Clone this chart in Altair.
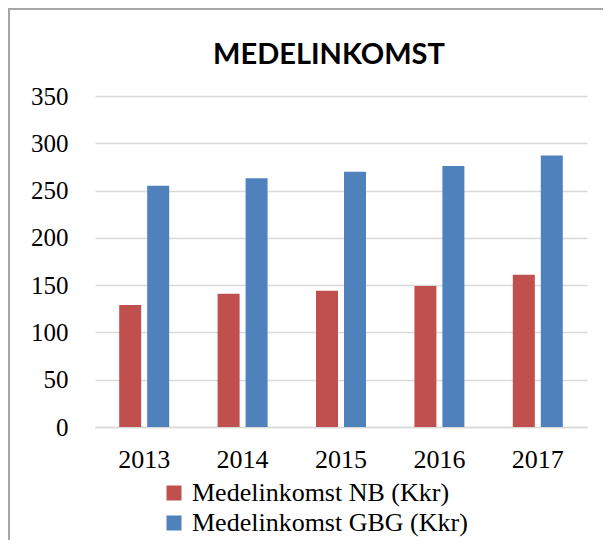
import altair as alt
import pandas as pd

years = ["2013", "2014", "2015", "2016", "2017"]
series = ["Medelinkomst NB (Kkr)", "Medelinkomst GBG (Kkr)"]
nb_values = [129, 141, 144, 149, 161]
gbg_values = [255, 263, 270, 276, 287]
colors = ["#C0504D", "#4F81BD"]
title_text = "MEDELINKOMST"

rows = []
for i, y in enumerate(years):
    rows.append({"year": y, "series": series[0], "value": nb_values[i]})
    rows.append({"year": y, "series": series[1], "value": gbg_values[i]})
df = pd.DataFrame(rows)

W, H = 492, 331
PL, PT = 87, 88

bars = alt.Chart(df).mark_bar().encode(
    x=alt.X("year:N", sort=years, title=None,
            scale=alt.Scale(paddingInner=0.492, paddingOuter=0.246),
            axis=alt.Axis(labelAngle=0, labelFont="Liberation Serif", labelFontSize=26,
                          labelColor="#000000", labelPadding=19, ticks=False,
                          domainColor="#D9D9D9", domainWidth=1.5)),
    xOffset=alt.XOffset("series:N", sort=series,
                        scale=alt.Scale(paddingInner=0.214, paddingOuter=0)),
    y=alt.Y("value:Q", title=None,
            scale=alt.Scale(domain=[0, 350]),
            axis=alt.Axis(values=[0, 50, 100, 150, 200, 250, 300, 350],
                          labelFont="Liberation Serif", labelFontSize=25,
                          labelColor="#000000", labelPadding=27, ticks=False,
                          domain=False, gridColor="#D9D9D9", gridWidth=1.5)),
    color=alt.Color("series:N", sort=series,
                    scale=alt.Scale(domain=series, range=colors),
                    legend=alt.Legend(title=None, orient="none", legendX=66, legendY=384,
                                      direction="vertical", symbolType="square",
                                      symbolSize=225, symbolStrokeWidth=0,
                                      labelFont="Liberation Serif", labelFontSize=26,
                                      labelColor="#000000", labelOffset=5,
                                      rowPadding=4, padding=0, labelLimit=500)),
)

title = alt.Chart(pd.DataFrame({"t": [title_text]})).mark_text(
    font="Lato", fontSize=29, fontWeight="bold", color="#000000",
    align="center", baseline="alphabetic").encode(
    text="t:N", x=alt.value(W / 2 - 12), y=alt.value(-32))

border_left = alt.Chart(df).mark_rule(color="#A6A6A6", strokeWidth=1.5).encode(
    x=alt.value(-PL + 0.75), y=alt.value(-PT), y2=alt.value(H + 200))
border_top = alt.Chart(df).mark_rule(color="#A6A6A6", strokeWidth=1.5).encode(
    x=alt.value(-PL), x2=alt.value(W + 200), y=alt.value(-PT + 0.75))

chart = alt.layer(bars, title, border_left, border_top).properties(
    width=W, height=H,
    autosize=alt.AutoSizeParams(type="none"),
    padding={"left": PL, "top": PT, "right": 16, "bottom": 113},
).configure_view(stroke=None)

chart.save("out.html", embed_options={"renderer": "svg", "actions": False})
